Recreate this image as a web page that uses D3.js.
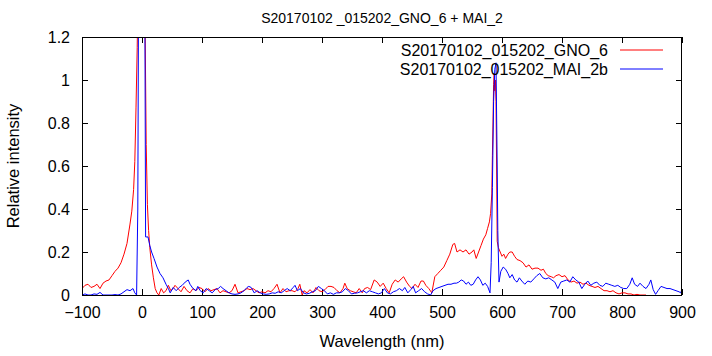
<!DOCTYPE html>
<html><head><meta charset="utf-8">
<script src="https://cdn.jsdelivr.net/npm/d3@7"></script>
<style>
body{margin:0;background:#fff;}
svg text{font-family:"Liberation Sans",Arial,Helvetica,sans-serif;fill:#000;}
</style>
</head><body>
<svg id="chart" width="712" height="356"></svg>
<script>
const chartTitle = "S20170102 _015202_GNO_6 + MAI_2";
const xLabel = "Wavelength (nm)";
const yLabel = "Relative intensity";
const xTicks = [-100, 0, 100, 200, 300, 400, 500, 600, 700, 800, 900];
const yTicks = [0, 0.2, 0.4, 0.6, 0.8, 1, 1.2];
const yTickLabels = ["0", "0.2", "0.4", "0.6", "0.8", "1", "1.2"];
const seriesNames = ["S20170102_015202_GNO_6", "S20170102_015202_MAI_2b"];
const seriesColors = ["#ff0000", "#0000ff"];

const gnoWavelength = [-100,-95,-90,-85,-80,-75,-70,-65,-60,-55,-50,-45,-40,-35,-30,-25,-20,-17,-14,-12,-10,-8,-6,-3,0,3,5,7,9,11,13,16,19,22,25,28,32,36,40,44,48,52,55,60,65,70,75,80,85,90,95,100,105,110,115,120,125,130,135,140,145,150,155,160,165,170,175,180,185,190,195,200,205,210,215,220,225,230,235,240,245,250,255,260,263,267,270,275,280,285,290,295,300,305,310,315,320,325,330,335,338,342,347,352,357,362,367,371,376,381,387,392,397,402,407,412,417,422,427,432,436,441,446,450,455,460,465,469,473,478,483,488,493,498,503,508,513,518,521,525,530,535,540,545,550,553,557,561,565,569,573,576,579,581,583,584,585,586,587,588,589,590,591,592,594,597,600,603,606,610,613,617,621,625,630,635,640,645,650,655,660,665,669,673,677,682,686,690,695,700,705,710,715,720,725,730,735,740,745,750,755,760,765,770,775,780,785,790,795,800,805,810,815,820,825,830,835,840];
const gnoIntensity = [0.03,0.045,0.05,0.035,0.04,0.05,0.03,0.055,0.065,0.07,0.09,0.11,0.125,0.15,0.19,0.24,0.33,0.39,0.49,0.62,0.87,1.15,1.6,2.2,2.5,2.0,1.3,0.7,0.42,0.3,0.22,0.14,0.08,0.03,0.01,0.0,0.03,0.01,0.02,0.045,0.02,0.03,0.045,0.03,0.015,0.04,0.02,0.01,0.03,0.02,0.035,0.03,0.015,0.03,0.02,0.025,0.03,0.01,0.02,0.015,0.01,0.02,0.05,0.01,0.015,0.02,0.03,0.025,0.03,0.02,0.01,0.015,0.01,0.02,0.015,0.03,0.05,0.01,0.03,0.015,0.02,0.02,0.015,0.03,0.05,0.0,0.02,0.01,0.025,0.01,0.035,0.02,0.015,0.025,0.04,0.04,0.035,0.02,0.01,0.03,0.055,0.03,0.02,0.015,0.01,0.03,0.01,0.03,0.035,0.025,0.07,0.06,0.04,0.055,0.03,0.01,0.05,0.07,0.06,0.075,0.085,0.06,0.04,0.03,0.05,0.035,0.065,0.065,0.045,0.03,0.01,0.085,0.1,0.115,0.13,0.16,0.19,0.235,0.24,0.2,0.21,0.2,0.21,0.19,0.2,0.21,0.17,0.2,0.23,0.26,0.28,0.31,0.34,0.38,0.47,0.65,0.8,0.98,1.03,0.95,1.0,0.9,0.6,0.25,0.22,0.2,0.18,0.19,0.17,0.19,0.2,0.2,0.18,0.165,0.16,0.15,0.13,0.14,0.12,0.125,0.125,0.115,0.12,0.1,0.09,0.085,0.08,0.09,0.095,0.085,0.09,0.07,0.06,0.065,0.055,0.06,0.05,0.055,0.045,0.04,0.035,0.04,0.03,0.02,0.02,0.015,0.02,0.01,0.005,0.01,0.01,0.005,0.005,0.0,0.003,0.0,0.0,0.0];

const maiWavelength = [-100,-95,-90,-85,-80,-75,-70,-65,-60,-55,-50,-45,-40,-35,-30,-25,-20,-15,-12,-9,-7,-5,0,4,6,10,13,16,20,25,30,35,40,44,47,52,57,62,67,72,77,80,85,90,93,97,102,107,112,117,122,127,131,135,140,145,150,155,160,165,170,175,178,182,187,192,197,202,207,212,217,222,227,232,237,242,247,252,255,259,264,269,274,279,284,289,294,299,304,309,314,319,324,329,334,339,344,349,354,359,364,369,374,379,384,389,394,399,404,409,414,419,424,429,434,438,443,448,452,456,461,466,471,476,481,485,490,495,500,505,510,515,520,524,528,532,536,540,544,548,552,556,560,564,568,572,576,580,582,584,586,588,590,592,593,595,598,602,606,610,613,617,621,625,629,633,638,643,648,653,658,663,668,673,678,683,688,693,698,703,708,713,718,723,728,733,738,743,748,753,758,763,768,773,778,783,788,793,798,803,808,813,817,821,826,830,835,840,845,848,852,856,860,865,870,875,880,885,890,895,898,900];
const maiIntensity = [0.0,0.005,0.0,0.0,0.005,0.003,0.012,0.0,0.0,0.0,0.0,0.002,0.0,0.005,0.015,0.025,0.02,0.03,0.01,0.0,0.4,2.0,3.0,2.0,0.27,0.27,0.23,0.2,0.17,0.13,0.1,0.08,0.05,0.03,0.01,0.035,0.02,0.035,0.045,0.06,0.07,0.05,0.03,0.02,0.04,0.02,0.01,0.03,0.02,0.01,0.025,0.03,0.04,0.03,0.02,0.01,0.005,0.003,0.005,0.01,0.02,0.035,0.04,0.035,0.01,0.02,0.01,0.005,0.003,0.005,0.01,0.008,0.015,0.01,0.02,0.03,0.02,0.035,0.045,0.02,0.03,0.01,0.005,0.008,0.015,0.02,0.04,0.03,0.02,0.005,0.01,0.003,0.01,0.01,0.015,0.03,0.02,0.005,0.008,0.01,0.015,0.02,0.01,0.02,0.015,0.01,0.005,0.01,0.03,0.01,0.005,0.015,0.02,0.03,0.02,0.035,0.01,0.025,0.04,0.01,0.02,0.03,0.015,0.005,0.0,0.02,0.03,0.035,0.04,0.045,0.05,0.05,0.055,0.055,0.06,0.07,0.065,0.05,0.06,0.045,0.05,0.07,0.085,0.07,0.045,0.055,0.04,0.01,0.15,0.5,0.9,1.05,1.08,0.6,0.3,0.06,0.11,0.13,0.12,0.1,0.08,0.095,0.07,0.06,0.08,0.065,0.05,0.065,0.06,0.075,0.09,0.1,0.08,0.075,0.08,0.07,0.06,0.03,0.06,0.065,0.07,0.06,0.085,0.07,0.06,0.03,0.05,0.065,0.045,0.055,0.06,0.045,0.04,0.055,0.05,0.045,0.04,0.045,0.035,0.03,0.03,0.05,0.08,0.05,0.04,0.055,0.04,0.03,0.05,0.07,0.025,0.003,0.02,0.04,0.035,0.03,0.03,0.025,0.02,0.015,0.01,0.03];

const W = 712, H = 356;
const margin = {left: 82, right: 30, top: 37, bottom: 61};
const pw = W - margin.left - margin.right;
const ph = H - margin.top - margin.bottom;

const svg = d3.select("#chart");
const x = d3.scaleLinear().domain([-100, 900]).range([margin.left, margin.left + pw]);
const y = d3.scaleLinear().domain([0, 1.2]).range([margin.top + ph, margin.top]);

svg.append("defs").append("clipPath").attr("id", "plotclip")
  .append("rect").attr("x", margin.left).attr("y", margin.top).attr("width", pw).attr("height", ph);

// axes with inward ticks (mirrored)
const gx = svg.append("g").attr("transform", `translate(0,${margin.top + ph})`)
  .call(d3.axisBottom(x).tickValues(xTicks).tickFormat(d3.format("d")).tickSizeInner(-6).tickSizeOuter(0).tickPadding(12));
const gxt = svg.append("g").attr("transform", `translate(0,${margin.top})`)
  .call(d3.axisTop(x).tickValues(xTicks).tickFormat("").tickSizeInner(-6).tickSizeOuter(0));
const gy = svg.append("g").attr("transform", `translate(${margin.left},0)`)
  .call(d3.axisLeft(y).tickValues(yTicks).tickFormat((d, i) => yTickLabels[i]).tickSizeInner(-6).tickSizeOuter(0).tickPadding(12));
const gyr = svg.append("g").attr("transform", `translate(${margin.left + pw},0)`)
  .call(d3.axisRight(y).tickValues(yTicks).tickFormat("").tickSizeInner(-6).tickSizeOuter(0));
[gx, gxt, gy, gyr].forEach(g => {
  g.select(".domain").remove();
  g.selectAll("line").attr("stroke", "#000");
  g.selectAll("text").style("font-size", "16px").style("font-family", '"Liberation Sans",Arial,sans-serif');
});

const line = d3.line().x(d => x(d[0])).y(d => y(d[1]));
const gnoData = gnoWavelength.map((w, i) => [w, gnoIntensity[i]]);
const maiData = maiWavelength.map((w, i) => [w, maiIntensity[i]]);

const plot = svg.append("g").attr("clip-path", "url(#plotclip)");
plot.append("path").datum(gnoData).attr("d", line).attr("fill", "none")
  .attr("stroke", seriesColors[0]).attr("stroke-width", 1);
plot.append("path").datum(maiData).attr("d", line).attr("fill", "none")
  .attr("stroke", seriesColors[1]).attr("stroke-width", 1);

// border
svg.append("rect").attr("x", margin.left + 0.5).attr("y", margin.top + 0.5)
  .attr("width", pw - 1).attr("height", ph).attr("fill", "none").attr("stroke", "#000");

// title
svg.append("text").attr("x", margin.left + pw / 2).attr("y", 23).attr("text-anchor", "middle")
  .style("font-size", "14px").text(chartTitle);
// x label
svg.append("text").attr("x", margin.left + pw / 2).attr("y", 347).attr("text-anchor", "middle")
  .style("font-size", "16.5px").text(xLabel);
// y label
svg.append("text").attr("transform", `translate(19,${margin.top + ph / 2}) rotate(-90)`).attr("text-anchor", "middle")
  .style("font-size", "16.5px").text(yLabel);

// legend
const legend = svg.append("g");
seriesNames.forEach((name, i) => {
  const ly = 50 + i * 19;
  legend.append("text").attr("x", 608).attr("y", ly).attr("dy", "0.35em").attr("text-anchor", "end")
    .style("font-size", "16px").text(name);
  legend.append("line").attr("x1", 620).attr("x2", 663).attr("y1", ly).attr("y2", ly)
    .attr("stroke", seriesColors[i]).attr("stroke-width", 1);
});
</script>
</body></html>
